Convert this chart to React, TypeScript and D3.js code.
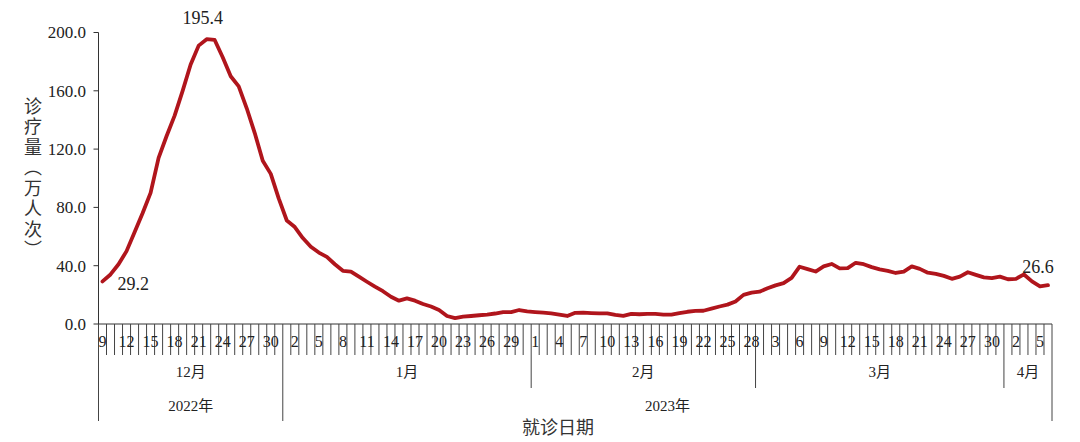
import React from "react";
import * as d3 from "d3";

// Month spans of the category axis (daily categories)
const monthLabels = ["12月", "1月", "2月", "3月", "4月"];
const monthStartDay = [9, 1, 1, 1, 1];
const monthEndDay = [31, 31, 28, 31, 6];
const monthYear = [0, 1, 1, 1, 1];
const yearLabels = ["2022年", "2023年"];

// Daily visits (万人次), 2022-12-09 .. 2023-04-06
const decValues = [29.2, 34, 41, 50, 63, 76, 90, 114, 129, 143, 160, 178, 191, 195.4, 194.9, 183, 170, 163, 148, 131, 112, 103, 86];
const janValues = [71, 66.5, 59, 53, 49, 46, 41, 36.5, 36, 32.5, 29, 25.6, 22.5, 18.7, 16, 17.6, 16, 13.7, 12, 9.6, 5.5, 4, 5, 5.5, 6, 6.5, 7.2, 8.2, 8.2, 9.6, 8.7];
const febValues = [8.2, 7.8, 7.3, 6.5, 5.5, 7.7, 7.8, 7.5, 7.3, 7.3, 6.2, 5.6, 7, 6.7, 7, 7, 6.5, 6.5, 7.5, 8.4, 9, 9.1, 10.5, 12, 13.3, 15.5, 20, 21.5];
const marValues = [22.2, 24.5, 26.5, 28, 31.6, 39.3, 37.7, 36, 39.5, 41.2, 38.2, 38.3, 42, 41, 39, 37.5, 36.5, 35, 36, 39.5, 37.8, 35.2, 34.4, 33, 31, 32.5, 35.5, 33.7, 32, 31.5, 32.5];
const aprValues = [30.7, 31, 34, 29.2, 25.8, 26.6];

const yTicks = [0, 40, 80, 120, 160, 200];
const yTitle = "诊疗量（万人次）";
const xTitle = "就诊日期";

const values = [...decValues, ...janValues, ...febValues, ...marValues, ...aprValues];

type Cat = { key: string; day: number; month: number };
const cats: Cat[] = [];
monthLabels.forEach((_, m) => {
  for (let d = monthStartDay[m]; d <= monthEndDay[m]; d++) {
    cats.push({ key: `${m}-${d}`, day: d, month: m });
  }
});

const W = 1080;
const H = 442;
const left = 98.5;
const right = 1052;
const top = 32.5;
const bottom = 324;

const serif = "'Liberation Serif', 'Times New Roman', 'Noto Sans CJK SC', serif";
const cjk = "'Noto Sans CJK SC', sans-serif";

export default function App() {
  const x = d3.scaleBand<string>().domain(cats.map((c) => c.key)).range([left, right]).padding(0);
  const y = d3.scaleLinear().domain([0, 200]).range([bottom, top]);
  const bw = x.bandwidth();
  const cx = (i: number) => (x(cats[i].key) as number) + bw / 2;

  const line = d3
    .line<number>()
    .x((_, i) => cx(i))
    .y((v) => y(v));

  // boundaries
  const monthBounds: number[] = [0];
  const yearBounds: number[] = [0];
  cats.forEach((c, i) => {
    if (i > 0 && c.month !== cats[i - 1].month) {
      monthBounds.push(i);
      if (monthYear[c.month] !== monthYear[cats[i - 1].month]) yearBounds.push(i);
    }
  });
  monthBounds.push(cats.length);
  yearBounds.push(cats.length);
  const bx = (i: number) => (i < cats.length ? (x(cats[i].key) as number) : right);

  const peakIdx = values.indexOf(d3.max(values) as number);
  const lastIdx = values.length - 1;

  return (
    <svg width={W} height={H} style={{ position: "absolute", left: 0, top: 0, background: "#fff" }}>
      {/* y axis */}
      <line x1={left} x2={left} y1={top} y2={bottom} stroke="#333" strokeWidth={1} />
      {yTicks.map((t) => (
        <g key={t}>
          <line x1={left - 5} x2={left} y1={y(t)} y2={y(t)} stroke="#333" />
          <text x={86} y={y(t)} dy="0.35em" textAnchor="end" fontFamily={serif} fontSize={17} fill="#222">
            {t.toFixed(1)}
          </text>
        </g>
      ))}
      {/* y title */}
      <text
        x={33}
        y={179}
        textAnchor="middle"
        fontFamily={cjk}
        fontSize={18}
        fill="#333"
        style={{ writingMode: "vertical-rl", letterSpacing: "2.5px" } as any}
      >
        {yTitle}
      </text>

      {/* x axis */}
      <line x1={left} x2={right} y1={bottom} y2={bottom} stroke="#333" />
      {d3.range(cats.length + 1).map((i) => {
        const isYear = yearBounds.includes(i);
        const isMonth = monthBounds.includes(i);
        const y2 = isYear ? 421 : isMonth ? 388 : 355;
        return <line key={i} x1={bx(i)} x2={bx(i)} y1={bottom} y2={y2} stroke="#444" strokeWidth={1} />;
      })}
      {cats.map((c, i) =>
        i % 3 === 0 ? (
          <text key={c.key} x={cx(i)} y={341} dy="0.35em" textAnchor="middle" fontFamily={serif} fontSize={16} fill="#222">
            {c.day}
          </text>
        ) : null
      )}
      {monthLabels.map((m, k) => (
        <text
          key={m}
          x={(bx(monthBounds[k]) + bx(monthBounds[k + 1])) / 2}
          y={372}
          dy="0.35em"
          textAnchor="middle"
          fontFamily={serif}
          fontSize={15}
          fill="#222"
        >
          {m}
        </text>
      ))}
      {yearLabels.map((yl, k) => (
        <text
          key={yl}
          x={(bx(yearBounds[k]) + bx(yearBounds[k + 1])) / 2}
          y={406}
          dy="0.35em"
          textAnchor="middle"
          fontFamily={serif}
          fontSize={15}
          fill="#222"
        >
          {yl}
        </text>
      ))}
      <text x={558} y={428} dy="0.35em" textAnchor="middle" fontFamily={cjk} fontSize={18} fill="#333">
        {xTitle}
      </text>

      {/* line */}
      <path d={line(values) || ""} fill="none" stroke="#b0151c" strokeWidth={3.8} strokeLinejoin="round" strokeLinecap="round" />

      {/* data labels */}
      <text x={cx(peakIdx) - 4} y={y(values[peakIdx]) - 22} dy="0.35em" textAnchor="middle" fontFamily={serif} fontSize={18} fill="#222">
        {values[peakIdx].toFixed(1)}
      </text>
      <text x={cx(0) + 15} y={y(values[0]) + 2} dy="0.35em" textAnchor="start" fontFamily={serif} fontSize={18} fill="#222">
        {values[0].toFixed(1)}
      </text>
      <text x={cx(lastIdx) - 10} y={y(values[lastIdx]) - 19} dy="0.35em" textAnchor="middle" fontFamily={serif} fontSize={18} fill="#222">
        {values[lastIdx].toFixed(1)}
      </text>
    </svg>
  );
}
